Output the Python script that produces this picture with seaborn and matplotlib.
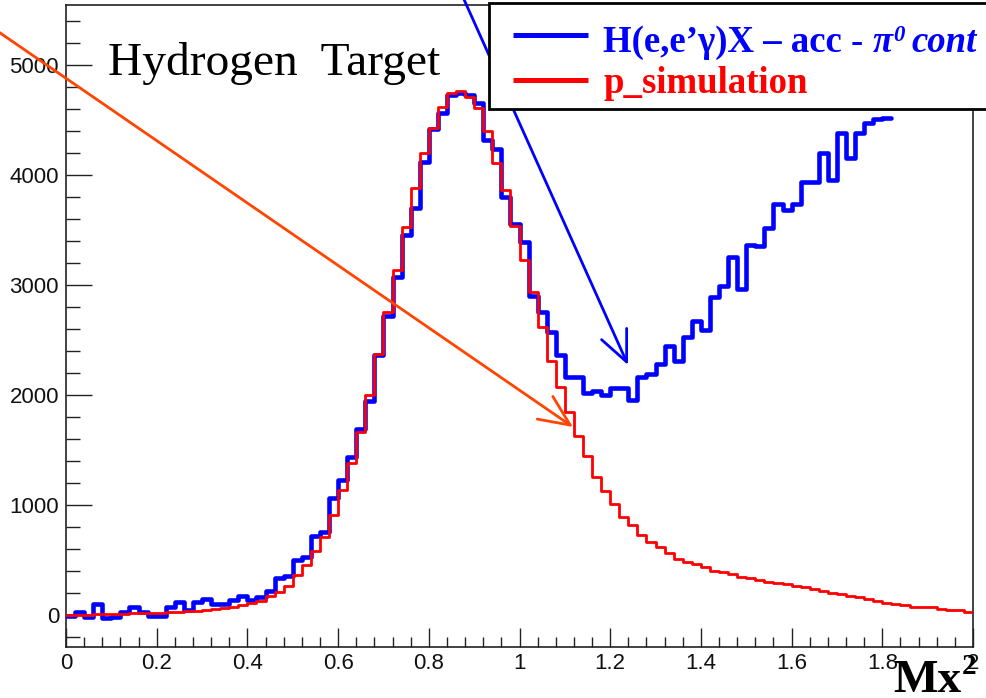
import numpy as np
import pandas as pd
import matplotlib
matplotlib.use("Agg")
import matplotlib.pyplot as plt
import seaborn as sns
from matplotlib.patches import Rectangle
from matplotlib.lines import Line2D
from matplotlib.ticker import MultipleLocator, FixedLocator

# ---------------- data ----------------
bin_width = 0.02
x_range = (0.0, 2.0)

data_counts = [
    -10, 25, -20, 97, -30, -20, 25, 75, 25, -5,
    -5, 75, 115, 45, 115, 143, 97, 97, 137, 173,
    137, 166, 221, 333, 357, 500, 524, 718, 752, 1061,
    1227, 1439, 1691, 1948, 2361, 2721, 3076, 3455, 3697, 4121,
    4415, 4561, 4727, 4748, 4727, 4657, 4318, 4233, 3803, 3555,
    3388, 2900, 2752, 2570, 2364, 2167, 2167, 2015, 2036, 2000,
    2061, 2061, 1950, 2167, 2194, 2285, 2446, 2306, 2524, 2676,
    2591, 2894, 2991, 3252, 2961, 3364, 3355, 3515, 3736, 3682,
    3736, 3939, 3939, 4197, 3955, 4379, 4152, 4385, 4476, 4506,
    4515,
]

sim_counts = [
    0, 2, 4, 6, 8, 10, 12, 14, 16, 18,
    20, 25, 30, 35, 40, 48, 55, 62, 75, 95,
    105, 130, 173, 212, 267, 364, 455, 585, 712, 909,
    1136, 1379, 1667, 2000, 2373, 2758, 3136, 3530, 3879, 4197,
    4424, 4621, 4748, 4766, 4706, 4606, 4403, 4112, 3864, 3536,
    3227, 2939, 2621, 2309, 2076, 1848, 1627, 1445, 1252, 1130,
    1009, 894, 818, 727, 667, 621, 561, 509, 485, 464,
    439, 400, 388, 373, 348, 333, 318, 297, 288, 279,
    264, 252, 236, 218, 203, 191, 173, 161, 145, 127,
    112, 100, 91, 76, 70, 70, 58, 45, 45, 30,
]

x_ticks = [0, 0.2, 0.4, 0.6, 0.8, 1.0, 1.2, 1.4, 1.6, 1.8, 2.0]
x_tick_labels = ["0", "0.2", "0.4", "0.6", "0.8", "1", "1.2", "1.4", "1.6", "1.8", "2"]
y_ticks = [0, 1000, 2000, 3000, 4000, 5000]
y_tick_labels = ["0", "1000", "2000", "3000", "4000", "5000"]

legend_labels = ["H(e,e\u2019\u03b3)X \u2013 acc -", "p_simulation"]
title_text = "Hydrogen  Target"
x_title = "Mx"
x_title_sup = "2"

# ---------------- style ----------------
sns.set_style("white")
plt.rcParams["font.family"] = ["Liberation Sans", "DejaVu Sans"]

W, H = 986, 698
fig = plt.figure(figsize=(W / 100, H / 100), dpi=100)

def fx(px):
    return px / W

def fy(py):
    return 1 - py / H

ax = fig.add_axes([66 / W, 1 - 647 / H, (973 - 66) / W, (647 - 5) / H])

n_edges = int(round((x_range[1] - x_range[0]) / bin_width)) + 1
edges = [round(x_range[0] + i * bin_width, 4) for i in range(n_edges)]

df_data = pd.DataFrame({"Mx2": [e + bin_width / 2 for e in edges[:len(data_counts)]],
                        "count": data_counts})
df_sim = pd.DataFrame({"Mx2": [e + bin_width / 2 for e in edges[:len(sim_counts)]],
                       "count": sim_counts})

blue = "#0000FF"
red = "#FF0000"

sns.histplot(data=df_data, x="Mx2", weights="count",
             bins=list(edges[:len(data_counts) + 1]), element="step", fill=False,
             color=blue, linewidth=3.3, ax=ax, zorder=3)
sns.histplot(data=df_sim, x="Mx2", weights="count",
             bins=list(edges[:len(sim_counts) + 1]), element="step", fill=False,
             color=red, linewidth=2.0, ax=ax, zorder=4)

ax.set_xlim(0, 2)
ax.set_ylim(-291, 5545)
ax.set_xlabel("")
ax.set_ylabel("")

ax.xaxis.set_major_locator(FixedLocator(x_ticks))
ax.set_xticklabels(x_tick_labels)
ax.yaxis.set_major_locator(FixedLocator(y_ticks))
ax.set_yticklabels(y_tick_labels)
ax.xaxis.set_minor_locator(MultipleLocator(0.04))
ax.yaxis.set_minor_locator(MultipleLocator(200))

ax.tick_params(axis="x", which="major", direction="in", length=14, width=1.0,
               color="#222222", pad=4.5, labelsize=16, bottom=True, top=False)
ax.tick_params(axis="x", which="minor", direction="in", length=7.5, width=1.0,
               color="#222222", bottom=True, top=False)
ax.tick_params(axis="y", which="major", direction="in", length=19, width=1.0,
               color="#222222", pad=5, labelsize=16, left=True, right=False)
ax.tick_params(axis="y", which="minor", direction="in", length=10, width=1.0,
               color="#222222", left=True, right=False)
for lab in ax.get_xticklabels() + ax.get_yticklabels():
    lab.set_family(["Liberation Sans", "DejaVu Sans"])
    lab.set_color("#111111")

for sp in ax.spines.values():
    sp.set_visible(True)
    sp.set_color("#222222")
    sp.set_linewidth(1.2)

# ---------------- annotations ----------------
arrow_orange = "#FF4500"
ax.annotate("", xy=(573, H - 427), xycoords="figure pixels",
            xytext=(-10, H - 26), textcoords="figure pixels",
            arrowprops=dict(arrowstyle="->,head_length=1.0,head_width=0.45",
                            color=arrow_orange, lw=2.0, mutation_scale=22,
                            shrinkA=0, shrinkB=0),
            annotation_clip=False, zorder=6)
ax.annotate("", xy=(628, H - 365), xycoords="figure pixels",
            xytext=(462, H + 5), textcoords="figure pixels",
            arrowprops=dict(arrowstyle="->,head_length=1.0,head_width=0.45",
                            color=blue, lw=2.0, mutation_scale=22,
                            shrinkA=0, shrinkB=0),
            annotation_clip=False, zorder=6)

fig.text(fx(108), fy(75), title_text, family="Liberation Serif",
         fontsize=34.2, color="black", va="baseline", ha="left", zorder=10)

# legend box (drawn manually)
box = Rectangle((fx(489), fy(109)), fx(1000) - fx(489), fy(3) - fy(109),
                transform=fig.transFigure, facecolor="white",
                edgecolor="black", linewidth=2.0, zorder=20)
fig.patches.append(box)
fig.add_artist(Line2D([fx(513), fx(588)], [fy(35), fy(35)], color=blue,
                      lw=3.6, zorder=21, solid_capstyle="butt"))
fig.add_artist(Line2D([fx(513), fx(588)], [fy(80), fy(80)], color=red,
                      lw=3.6, zorder=21, solid_capstyle="butt"))

fig.canvas.draw()
renderer = fig.canvas.get_renderer()

leg_fs = 26.5
t1 = fig.text(fx(603), fy(52), legend_labels[0], family="Liberation Serif",
              weight="bold", fontsize=leg_fs, color=blue, va="baseline",
              ha="left", zorder=22)
bb = t1.get_window_extent(renderer)
xcur = bb.x1 + 9
t2 = fig.text(xcur / W, fy(52), "\u03c0", family="Liberation Serif",
              weight="bold", style="italic", fontsize=leg_fs, color=blue,
              va="baseline", ha="left", zorder=22)
bb = t2.get_window_extent(renderer)
xcur = bb.x1 + 1
t3 = fig.text(xcur / W, fy(41), "0", family="Liberation Serif",
              weight="bold", style="italic", fontsize=leg_fs * 0.62, color=blue,
              va="baseline", ha="left", zorder=22)
bb = t3.get_window_extent(renderer)
xcur = bb.x1 + 7
fig.text(xcur / W, fy(52), "cont", family="Liberation Serif",
         weight="bold", style="italic", fontsize=leg_fs, color=blue,
         va="baseline", ha="left", zorder=22)

fig.text(fx(603), fy(93), legend_labels[1], family="Liberation Serif",
         weight="bold", fontsize=26.5, color=red, va="baseline",
         ha="left", zorder=22)

tm = fig.text(fx(893), fy(692), x_title, family="Liberation Serif",
              weight="bold", fontsize=34, color="black", va="baseline",
              ha="left", zorder=22)
bb = tm.get_window_extent(renderer)
fig.text((bb.x1 + 1) / W, fy(674), x_title_sup, family="Liberation Serif",
         weight="bold", fontsize=21, color="black", va="baseline",
         ha="left", zorder=22)

fig.savefig("out.png", dpi=100)
